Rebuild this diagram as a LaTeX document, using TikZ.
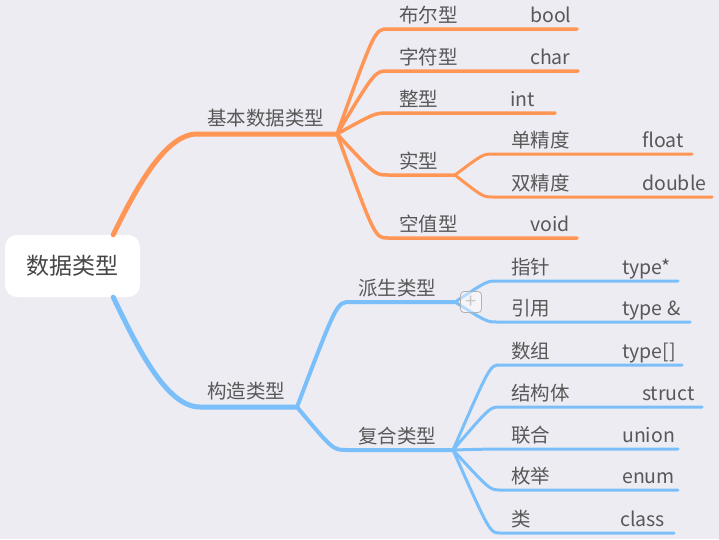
\documentclass[tikz,border=0pt]{standalone}
\usepackage{fontspec}
\setmainfont{Noto Sans CJK SC}
\usetikzlibrary{calc}
\definecolor{bgc}{RGB}{238,236,243}
\definecolor{orbr}{RGB}{255,150,85}
\definecolor{blbr}{RGB}{122,191,250}
\definecolor{txt}{RGB}{88,88,88}
\definecolor{txtd}{RGB}{70,70,70}
\tikzset{
  root/.style={fill=white, rounded corners=12pt, minimum width=135pt, minimum height=62pt,
    inner sep=0pt, text=txtd, font=\fontsize{23}{23}\selectfont},
  lbl/.style={anchor=base west, inner sep=0pt, text=txt, font=\fontsize{19.5}{19.5}\selectfont},
  obr/.style={draw=orbr, line width=3.5pt},
  bbr/.style={draw=blbr, line width=3.5pt},
  leaf/.style={line width=3pt},
  foldbtn/.style={draw=gray!60, line width=0.8pt, fill=white, fill opacity=0.45, text opacity=1,
    rounded corners=3.5pt, minimum size=21pt, inner sep=0pt, text=gray!45, font=\fontsize{20}{20}\selectfont}
}
\begin{document}
\begin{tikzpicture}[x=1pt, y=-1pt, line cap=round, line join=round]
  \fill[bgc] (0,0) rectangle (719,539);
  \useasboundingbox (0,0) rectangle (719,539);
  \node[root] (root) at (72.5,266) {数据类型};
  % main topics
  \coordinate (jb-s) at (197,134); \coordinate (jb-e) at (337,134);
  \coordinate (gz-s) at (200,407); \coordinate (gz-e) at (297,407);
  \node[lbl] (jb) at (207,125) {基本数据类型};
  \node[lbl] (gz) at (207,398) {构造类型};
  \draw[obr, line width=5pt] ([xshift=-27pt]root.north east) .. controls +(22,-45) and +(-32,0) .. (jb-s) -- (jb-e);
  \draw[bbr, line width=5pt] ([xshift=-27pt]root.south east) .. controls +(22,45) and +(-35,0) .. (gz-s) -- (gz-e);
  % basic types
  \foreach \n/\y/\lab/\val/\vx/\ex in {bo/29/布尔型/bool/530/577, ch/71/字符型/char/530/578,
      in/113/整型/int/510/555, vo/238/空值型/void/530/577}{
    \coordinate (\n-s) at (388,\y); \coordinate (\n-e) at (\ex,\y);
    \node[lbl] (\n) at (399,\y-7) {\lab};
    \node[lbl] (\n-v) at (\vx,\y-7) {\val};
    \draw[obr] (jb-e) .. controls ($(jb-e |- \n-s)+(38,0)$) .. (\n-s) -- (\n-e);
  }
  \coordinate (sx-s) at (388,175); \coordinate (sx-e) at (455,175);
  \node[lbl] (sx) at (399,168) {实型};
  \draw[obr] (jb-e) .. controls ($(jb-e |- sx-s)+(38,0)$) .. (sx-s) -- (sx-e);
  \foreach \n/\y/\lab/\val/\ex in {dj/154/单精度/float/692, sj/197/双精度/double/712}{
    \coordinate (\n-s) at (493,\y); \coordinate (\n-e) at (\ex,\y);
    \node[lbl] (\n) at (511,\y-7) {\lab};
    \node[lbl] (\n-v) at (642,\y-7) {\val};
    \draw[obr, leaf] (sx-e) .. controls ($(sx-e |- \n-s)+(28,0)$) .. (\n-s) -- (\n-e);
  }
  % constructed types
  \coordinate (ps-s) at (350,302); \coordinate (ps-e) at (455,302);
  \coordinate (fh-s) at (347,450); \coordinate (fh-e) at (453,450);
  \node[lbl] (ps) at (358,295) {派生类型};
  \node[lbl] (fh) at (358,443) {复合类型};
  \draw[bbr, line width=4pt] (gz-e) .. controls ($(gz-e |- ps-s)+(40,0)$) .. (ps-s) -- (ps-e);
  \draw[bbr, line width=4pt] (gz-e) .. controls ($(gz-e |- fh-s)+(36,0)$) .. (fh-s) -- (fh-e);
  \foreach \n/\y/\lab/\val/\vx/\ex in {zz/281/指针/type*/622/678, yy/322/引用/type\hspace{5pt}\&/622/690}{
    \coordinate (\n-s) at (497,\y); \coordinate (\n-e) at (\ex,\y);
    \node[lbl] (\n) at (511,\y-7) {\lab};
    \node[lbl] (\n-v) at (\vx,\y-7) {\val};
    \draw[bbr, leaf] (ps-e) .. controls ($(ps-e |- \n-s)+(32,0)$) .. (\n-s) -- (\n-e);
  }
  \foreach \n/\y/\lab/\val/\vx/\ex in {sz/365/数组/type[]/622/682, jg/407/结构体/struct/642/702,
      lh/449/联合/union/622/678, mj/490/枚举/enum/622/678, cl/533/类/class/620/674}{
    \coordinate (\n-s) at (500,\y); \coordinate (\n-e) at (\ex,\y);
    \node[lbl] (\n) at (511,\y-7) {\lab};
    \node[lbl] (\n-v) at (\vx,\y-7) {\val};
    \draw[bbr, leaf] (fh-e) .. controls ($(fh-e |- \n-s)+(37,0)$) .. (\n-s) -- (\n-e);
  }
  \node[foldbtn] (fold) at (471,302) {+};
\end{tikzpicture}
\end{document}
